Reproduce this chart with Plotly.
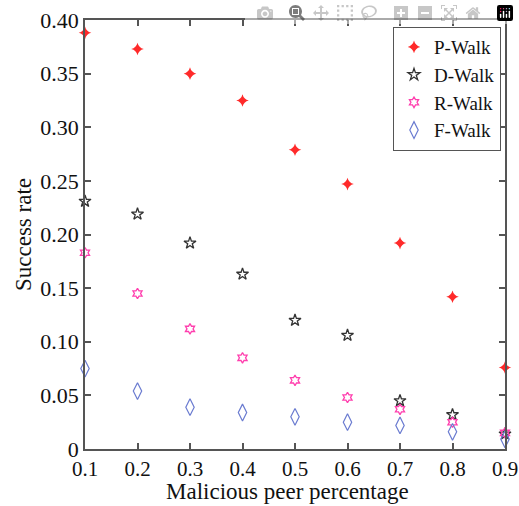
import plotly.graph_objects as go

x_vals = [0.1, 0.2, 0.3, 0.4, 0.5, 0.6, 0.7, 0.8, 0.9]
p_walk = [0.388, 0.373, 0.350, 0.325, 0.279, 0.247, 0.192, 0.142, 0.076]
d_walk = [0.231, 0.219, 0.192, 0.163, 0.120, 0.106, 0.045, 0.032, 0.014]
r_walk = [0.183, 0.145, 0.112, 0.085, 0.064, 0.048, 0.037, 0.025, 0.015]
f_walk = [0.075, 0.054, 0.039, 0.034, 0.030, 0.025, 0.022, 0.016, 0.009]

x_ticks = [0.1, 0.2, 0.3, 0.4, 0.5, 0.6, 0.7, 0.8, 0.9]
x_tick_text = ["0.1", "0.2", "0.3", "0.4", "0.5", "0.6", "0.7", "0.8", "0.9"]
y_ticks = [0, 0.05, 0.10, 0.15, 0.20, 0.25, 0.30, 0.35, 0.40]
y_tick_text = ["0", "0.05", "0.10", "0.15", "0.20", "0.25", "0.30", "0.35", "0.40"]

FONT = "Liberation Serif"

series = [
    ("P-Walk", p_walk, "star-diamond", "#ff2a2a", 9, 0),
    ("D-Walk", d_walk, "star-open", "#333333", 9, 1.3),
    ("R-Walk", r_walk, "hexagram-open", "#ff3fae", 8, 1.3),
    ("F-Walk", f_walk, "diamond-tall-open", "#6a7bd0", 12, 1.2),
]

fig = go.Figure()
for name, vals, sym, col, size, lw in series:
    fig.add_trace(go.Scatter(
        x=x_vals, y=vals, mode="markers", name=name,
        marker=dict(symbol=sym, color=col, size=size,
                    line=dict(color=col, width=lw)),
        cliponaxis=False,
    ))

axis_common = dict(
    showline=True, linecolor="#555555", linewidth=1.5, mirror="ticks",
    ticks="inside", ticklen=6, tickcolor="#555555", tickwidth=1.5,
    showgrid=False, zeroline=False, automargin=False,
    ticklabeloverflow="allow",
)

fig.update_layout(
    width=519, height=506,
    margin=dict(l=85, r=14, t=20, b=57),
    paper_bgcolor="white", plot_bgcolor="white",
    font=dict(family=FONT, color="#111111"),
    showlegend=True,
    legend=dict(
        x=0.99, y=0.984, xanchor="right", yanchor="top",
        bgcolor="white", bordercolor="#555555", borderwidth=1.2,
        font=dict(family=FONT, size=19, color="#111111"),
        itemwidth=30, tracegroupgap=0,
    ),
    annotations=[dict(
        text="Malicious peer percentage", xref="paper", yref="paper",
        x=0.482, y=-0.098, xanchor="center", yanchor="middle",
        showarrow=False, font=dict(family=FONT, size=23, color="#111111"),
    )],
)
fig.update_xaxes(
    range=[0.1, 0.9], tickvals=x_ticks, ticktext=x_tick_text,
    tickfont=dict(family=FONT, size=21, color="#111111"),
    **axis_common,
)
fig.update_yaxes(
    range=[0, 0.4], tickvals=y_ticks, ticktext=y_tick_text,
    tickfont=dict(family=FONT, size=22, color="#111111"),
    title=dict(text="Success rate", font=dict(family=FONT, size=23, color="#111111"), standoff=2),
    **axis_common,
)

# remove the default page margin so the 519x506 figure fills the window exactly
fig.write_html(
    "out.html",
    post_script="document.body.style.margin='0';document.documentElement.style.overflow='hidden';document.body.style.overflow='hidden';",
)
